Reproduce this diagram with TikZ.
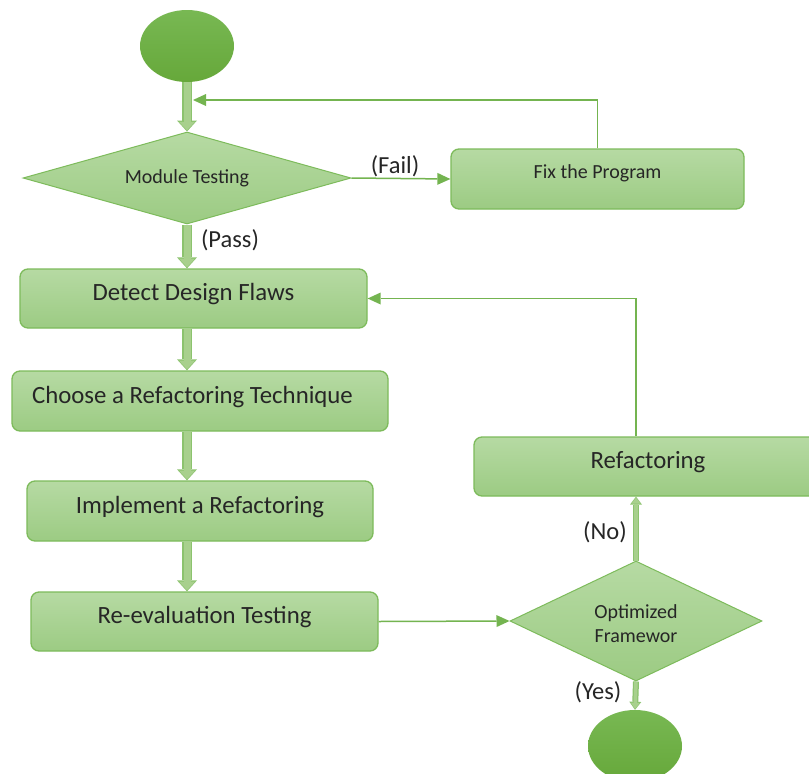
\documentclass[tikz,border=0pt]{standalone}
\usepackage{fontspec}
\setmainfont{Carlito}
\usetikzlibrary{shapes.geometric,arrows.meta}
\definecolor{circtop}{HTML}{78B853}
\definecolor{circbot}{HTML}{66A83A}
\definecolor{boxtop}{HTML}{B6DAA3}
\definecolor{boxbot}{HTML}{9CCB83}
\definecolor{boxline}{HTML}{7DBB5B}
\definecolor{fatin}{HTML}{A8D08D}
\definecolor{fatout}{HTML}{8CC36E}
\definecolor{linec}{HTML}{74B450}
\definecolor{txt}{HTML}{262626}
\tikzset{
  stbox/.style={draw=boxline, line width=1.3pt, rounded corners=8pt, top color=boxtop, bottom color=boxbot,
    font=\fontsize{24.8}{29}\selectfont, text=txt, text height=17pt, text depth=13pt, inner sep=0pt},
  smbox/.style={stbox, font=\fontsize{20}{24}\selectfont, text height=14pt, text depth=16pt},
  decis/.style={diamond, draw=boxline, line width=1pt, top color=boxtop, bottom color=boxbot, inner sep=0pt,
    font=\fontsize{20}{24}\selectfont, text=txt, align=center},
  term/.style={ellipse, draw=none, top color=circtop, bottom color=circbot, minimum width=94pt, minimum height=72pt},
  fatouter/.style={draw=fatout, line width=10pt, -{Triangle[length=11pt,width=20pt,line width=0pt]}},
  fatinner/.style={draw=fatin, line width=7pt, shorten >=1.2pt, -{Triangle[length=8.5pt,width=16pt,line width=0pt]}},
  slimouter/.style={draw=fatout, line width=6pt, -{Triangle[length=8pt,width=12pt,line width=0pt]}},
  sliminner/.style={draw=fatin, line width=3.5pt, shorten >=1pt, -{Triangle[length=6pt,width=9pt,line width=0pt]}},
  thinarr/.style={draw=linec, line width=1.5pt, -{Triangle[length=13pt,width=12pt,line width=0pt]}},
  lbl/.style={font=\fontsize{24.5}{28}\selectfont, text=txt, inner sep=0pt}
}
\newcommand\fatarr[2]{\draw[fatouter] #1 -- #2; \draw[fatinner] #1 -- #2;}
\newcommand\slimarr[2]{\draw[slimouter] #1 -- #2; \draw[sliminner] #1 -- #2;}
\begin{document}
\begin{tikzpicture}[x=1pt,y=-1pt]
\useasboundingbox[fill=white] (0,0) rectangle (809,774);
% nodes
\node[term] (start) at (187,46) {};
\node[decis, aspect=3.6, minimum width=328pt, minimum height=92pt] (mt) at (187,178) {Module Testing};
\node[smbox, minimum width=293pt, minimum height=60pt] (fix) at (597.5,179) {Fix the Program};
\node[stbox, minimum width=347pt, minimum height=59pt] (detect) at (193.5,298.5) {Detect Design Flaws};
\node[stbox, minimum width=376pt, minimum height=60pt] (choose) at (200,401) {Choose a Refactoring Technique\hspace*{15pt}};
\node[stbox, minimum width=346pt, minimum height=60pt] (impl) at (200,511) {Implement a Refactoring};
\node[stbox, minimum width=347pt, minimum height=59pt] (reeval) at (204.5,621.5) {Re-evaluation Testing};
\node[decis, aspect=2.1, minimum width=252pt, minimum height=120pt] (opt) at (636,621) {\rule{0pt}{19pt}Optimized\\Framewor};
\node[stbox, minimum width=348pt, minimum height=59pt] (refac) at (648,466.5) {Refactoring};
\node[term] (end) at (635,746) {};
\coordinate (ret) at (193,100);
% connectors
\fatarr{(start.south)}{(mt.north)}
\fatarr{(mt.south)}{(mt.south |- detect.north)}
\fatarr{(detect.south -| mt.south)}{(choose.north -| mt.south)}
\fatarr{(choose.south -| mt.south)}{(impl.north -| mt.south)}
\fatarr{(impl.south -| mt.south)}{(reeval.north -| mt.south)}
\draw[thinarr] (mt.east) -- (fix.west);
\draw[thinarr] (fix.north) |- (ret);
\draw[thinarr] (reeval.east) -- (opt.west);
\slimarr{(opt.north)}{(opt.north |- refac.south)}
\slimarr{(opt.south)}{(end.north)}
\draw[thinarr] (refac.north -| opt.north) |- (detect.east);
% labels
\node[lbl] (lfail) at (395,166) {(Fail)};
\node[lbl] (lpass) at (230,240) {(Pass)};
\node[lbl] (lno) at (605,532) {(No)};
\node[lbl] (lyes) at (598,692) {(Yes)};
\end{tikzpicture}
\end{document}
